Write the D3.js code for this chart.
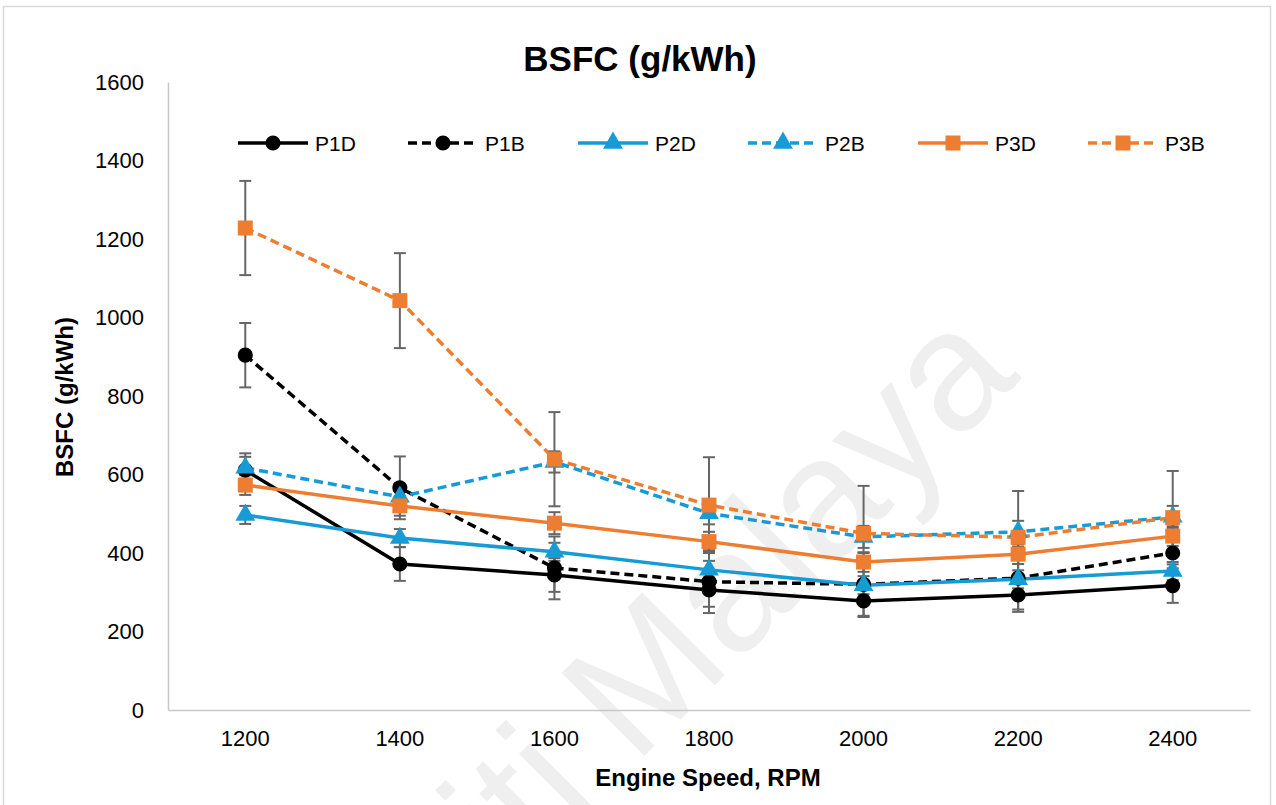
<!DOCTYPE html>
<html><head><meta charset="utf-8">
<script src="https://cdn.jsdelivr.net/npm/d3@7"></script>
<style>body{margin:0;background:#fff} svg{display:block}</style>
</head><body><svg id="c" width="1276" height="805"></svg>
<script>
const categories = [1200, 1400, 1600, 1800, 2000, 2200, 2400];
const yTicks = [0, 200, 400, 600, 800, 1000, 1200, 1400, 1600];
const seriesNames = ["P1D", "P1B", "P2D", "P2B", "P3D", "P3B"];
const P1D = [611, 372, 344, 306, 278, 293, 317];
const P1B = [904, 566, 362, 327, 320, 336, 400];
const P2D = [497, 438, 403, 357, 318, 333, 354];
const P2B = [617, 543, 632, 501, 441, 454, 492];
const P3D = [573, 520, 476, 429, 377, 397, 443];
const P3B = [1228, 1043, 639, 522, 450, 440, 490];
const errP1D = [43, 43, 43, 43, 41, 43, 44];
const errP1B = [82, 80, 80, 80, 80, 80, 80];
const errP2D = [23, 23, 23, 23, 23, 23, 23];
const errP2B = [28, 28, 27, 28, 28, 28, 28];
const errP3D = [25, 25, 28, 25, 25, 25, 25];
const errP3B = [120, 121, 120, 122, 121, 118, 119];

const BLACK = "#000000", BLUE = "#169BD5", ORANGE = "#ED7D31";
const series = [
  {name: "P1D", values: P1D, err: errP1D, color: BLACK, dash: null, shape: d3.symbolCircle, size: 180},
  {name: "P1B", values: P1B, err: errP1B, color: BLACK, dash: "9,5", shape: d3.symbolCircle, size: 180},
  {name: "P2D", values: P2D, err: errP2D, color: BLUE, dash: null, shape: d3.symbolTriangle, size: 170},
  {name: "P2B", values: P2B, err: errP2B, color: BLUE, dash: "9,5", shape: d3.symbolTriangle, size: 170},
  {name: "P3D", values: P3D, err: errP3D, color: ORANGE, dash: null, shape: d3.symbolSquare, size: 225},
  {name: "P3B", values: P3B, err: errP3B, color: ORANGE, dash: "9,5", shape: d3.symbolSquare, size: 225}
];

const FONT = "'Liberation Sans', Arial, sans-serif";
const svg = d3.select("#c");

// chart area border
svg.append("rect").attr("x", 3.5).attr("y", 6.5).attr("width", 1267).attr("height", 805)
  .attr("fill", "#fff").attr("stroke", "#D9D9D9").attr("stroke-width", 1.5);

// watermark
svg.append("text").attr("transform", "translate(1022,378) rotate(-45)")
  .attr("text-anchor", "end").attr("font-family", FONT).attr("font-size", 170)
  .attr("fill", "#EFEFEF").text("Universiti Malaya");

const x = d3.scaleBand().domain(categories).range([168, 1250]);
const cx = d => x(d) + x.bandwidth() / 2;
const y = d3.scaleLinear().domain([0, 1600]).range([710, 82]);

// axes
const gy = svg.append("g").attr("transform", "translate(168,0)")
  .call(d3.axisLeft(y).tickValues(yTicks).tickFormat(d3.format("d")).tickSize(0).tickPadding(24).tickSizeOuter(0));
gy.select(".domain").attr("stroke", "#C8C8C8").attr("stroke-width", 1.5);
gy.selectAll("text").attr("font-family", FONT).attr("font-size", 22).attr("fill", "#000");

const gx = svg.append("g").attr("transform", "translate(0,710)")
  .call(d3.axisBottom(x).tickSize(0).tickPadding(20).tickSizeOuter(0));
gx.select(".domain").attr("stroke", "#C8C8C8").attr("stroke-width", 1.5);
gx.selectAll("text").attr("font-family", FONT).attr("font-size", 22).attr("fill", "#000");

// titles
svg.append("text").attr("x", 640).attr("y", 71).attr("text-anchor", "middle")
  .attr("font-family", FONT).attr("font-weight", "bold").attr("font-size", 35).text("BSFC (g/kWh)");
svg.append("text").attr("x", 708).attr("y", 786).attr("text-anchor", "middle")
  .attr("font-family", FONT).attr("font-weight", "bold").attr("font-size", 24).text("Engine Speed, RPM");
svg.append("text").attr("transform", "translate(73,397) rotate(-90)").attr("text-anchor", "middle")
  .attr("font-family", FONT).attr("font-weight", "bold").attr("font-size", 24).text("BSFC (g/kWh)");

// series
const line = d3.line().x((d, i) => cx(categories[i])).y(d => y(d));
series.forEach(s => {
  const g = svg.append("g");
  g.append("path").attr("d", line(s.values)).attr("fill", "none")
    .attr("stroke", s.color).attr("stroke-width", 3.5)
    .attr("stroke-dasharray", s.dash);
});
series.forEach(s => {
  const g = svg.append("g");
  s.values.forEach((v, i) => {
    const px = cx(categories[i]);
    g.append("line").attr("x1", px).attr("x2", px).attr("y1", y(v + s.err[i])).attr("y2", y(v - s.err[i]))
      .attr("stroke", "#666").attr("stroke-width", 2);
    [v + s.err[i], v - s.err[i]].forEach(e => {
      g.append("line").attr("x1", px - 6).attr("x2", px + 6).attr("y1", y(e)).attr("y2", y(e))
        .attr("stroke", "#666").attr("stroke-width", 2);
    });
  });
});
series.forEach(s => {
  const g = svg.append("g");
  s.values.forEach((v, i) => {
    g.append("path").attr("d", d3.symbol().type(s.shape).size(s.size)())
      .attr("transform", `translate(${cx(categories[i])},${y(v)})`).attr("fill", s.color);
  });
});

// legend
const lg = svg.append("g");
series.forEach((s, i) => {
  const lx = 238 + i * 170, ly = 143;
  lg.append("line").attr("x1", lx).attr("x2", lx + 70).attr("y1", ly).attr("y2", ly)
    .attr("stroke", s.color).attr("stroke-width", 3.5).attr("stroke-dasharray", s.dash);
  lg.append("path").attr("d", d3.symbol().type(s.shape).size(s.size)())
    .attr("transform", `translate(${lx + 35},${ly})`).attr("fill", s.color);
  lg.append("text").attr("x", lx + 77).attr("y", ly + 8).attr("font-family", FONT)
    .attr("font-size", 21).text(s.name);
});
</script></body></html>
